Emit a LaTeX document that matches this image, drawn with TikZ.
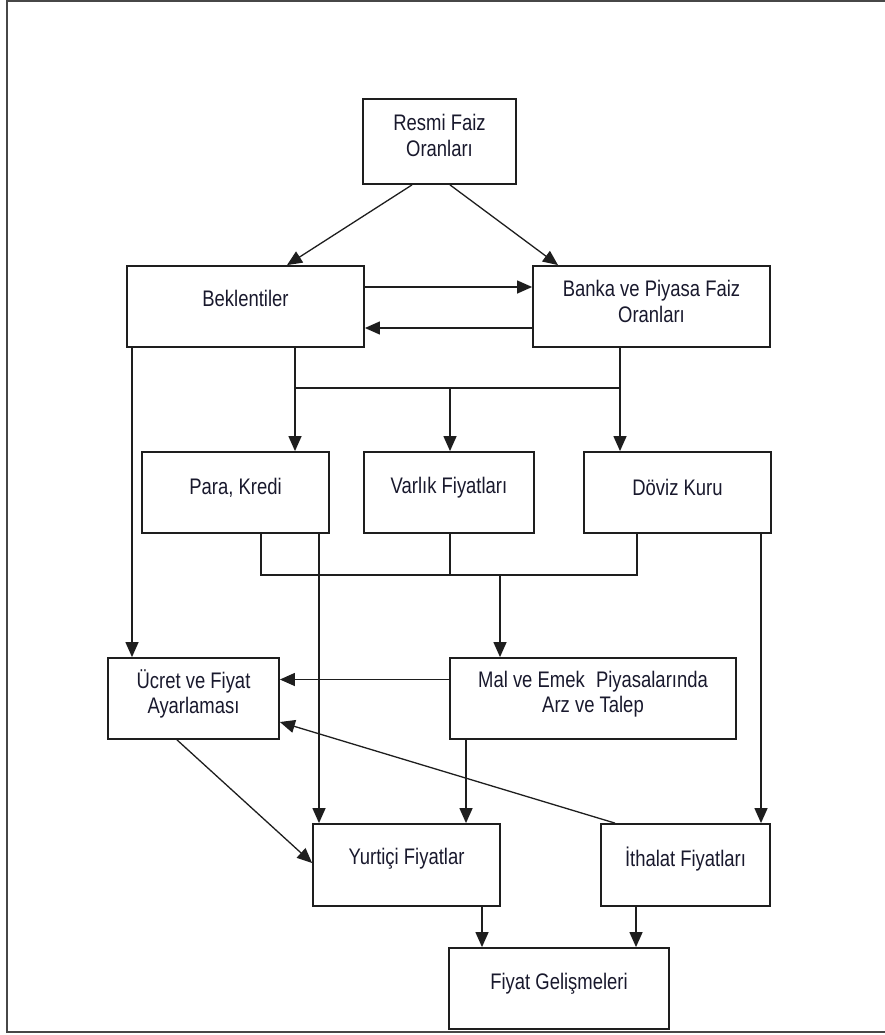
\documentclass[tikz,border=0pt]{standalone}
\usepackage{fontspec}
\setmainfont{Liberation Sans}[FakeStretch=0.82]
\usetikzlibrary{arrows.meta}
\definecolor{txtc}{RGB}{25,25,45}
\definecolor{linec}{RGB}{30,30,30}
\begin{document}
\begin{tikzpicture}[x=1pt,y=-1pt,
  box/.style={draw=linec, line width=1.8pt, inner sep=0pt, fill=white},
  lbl/.style={font=\fontsize{22.5}{25.5}\selectfont, align=center, text=txtc, inner sep=0pt},
  conn/.style={line width=1.3pt, draw=linec, -{Triangle[length=15pt,width=13pt]}},
  plainline/.style={line width=1.3pt, draw=linec}]
\useasboundingbox (0,0) rectangle (885,1035);
% frame
\draw[line width=2.2pt, draw=black!72] (885,1) -- (7,1) -- (7,1032) -- (885,1032);
% boxes
\node[box, minimum width=153pt, minimum height=85pt] (res) at (439.5,141.5) {};
\node[box, minimum width=237pt, minimum height=81pt] (bek) at (245.5,306.5) {};
\node[box, minimum width=237pt, minimum height=81pt] (ban) at (651.5,306.5) {};
\node[box, minimum width=187pt, minimum height=81pt] (par) at (235.5,492.5) {};
\node[box, minimum width=170pt, minimum height=81pt] (var) at (449,492.5) {};
\node[box, minimum width=187pt, minimum height=81pt] (dov) at (677.5,492.5) {};
\node[box, minimum width=171pt, minimum height=81pt] (ucr) at (193.5,698.5) {};
\node[box, minimum width=286pt, minimum height=81pt] (mal) at (593,698.5) {};
\node[box, minimum width=187pt, minimum height=82pt] (yur) at (406.5,865) {};
\node[box, minimum width=169pt, minimum height=82pt] (ith) at (685.5,865) {};
\node[box, minimum width=220pt, minimum height=81pt] (fiy) at (559,988.5) {};
% labels
\node[lbl] (res-t) at ([yshift=6pt]res.center) {Resmi Faiz\\Oranları};
\node[lbl] (bek-t) at ([yshift=8pt]bek.center) {Beklentiler};
\node[lbl] (ban-t) at ([yshift=5pt]ban.center) {Banka ve Piyasa Faiz\\Oranları};
\node[lbl] (par-t) at ([yshift=5pt]par.center) {Para, Kredi};
\node[lbl] (var-t) at ([yshift=5pt]var.center) {Varlık Fiyatları};
\node[lbl] (dov-t) at ([yshift=5pt]dov.center) {Döviz Kuru};
\node[lbl] (ucr-t) at ([yshift=4.5pt]ucr.center) {Ücret ve Fiyat\\Ayarlaması};
\node[lbl] (mal-t) at ([yshift=4.5pt]mal.center) {Mal ve Emek\enspace Piyasalarında\\Arz ve Talep};
\node[lbl] (yur-t) at ([yshift=6pt]yur.center) {Yurtiçi Fiyatlar};
\node[lbl] (ith-t) at ([yshift=6pt]ith.center) {İthalat Fiyatları};
\node[lbl] (fiy-t) at ([yshift=5pt]fiy.center) {Fiyat Gelişmeleri};
% helper coordinates
\coordinate (b1l) at (295,388);
\coordinate (b1m) at (450,388);
\coordinate (b1r) at (620,388);
\coordinate (b2l) at (261,575);
\coordinate (b2m) at (450,575);
\coordinate (b2r) at (637,575);
\coordinate (b2a) at (500,575);
\coordinate (bkl) at (132,0);
\coordinate (pk) at (319,0);
\coordinate (dk) at (761,0);
\coordinate (mk) at (466,0);
\coordinate (yk) at (482,0);
\coordinate (ik) at (636,0);
% connectors
\draw[conn] ([xshift=-27.5pt]res.south) -- ([xshift=41.5pt]bek.north);
\draw[conn] ([xshift=10.5pt]res.south) -- ([xshift=-93.5pt]ban.north);
\draw[conn] ([yshift=19.5pt]bek.east) -- ([yshift=19.5pt]ban.west);
\draw[conn] ([yshift=-21.5pt]ban.west) -- ([yshift=-21.5pt]bek.east);
\draw[plainline] (bek.south -| b1l) -- (b1l) -- (b1r) -- (ban.south -| b1r);
\draw[conn] (b1l) -- (par.north -| b1l);
\draw[conn] (b1m) -- (var.north -| b1m);
\draw[conn] (b1r) -- (dov.north -| b1r);
\draw[conn] (bek.south -| bkl) -- (ucr.north -| bkl);
\draw[plainline] (par.south -| b2l) -- (b2l) -- (b2r) -- (dov.south -| b2r);
\draw[plainline] (var.south -| b2m) -- (b2m);
\draw[conn] (b2a) -- (mal.north -| b2a);
\draw[conn] (par.south -| pk) -- (yur.north -| pk);
\draw[conn] (dov.south -| dk) -- (ith.north -| dk);
\draw[conn] ([yshift=19pt]mal.west) -- ([yshift=19pt]ucr.east);
\draw[conn] ([xshift=-70.5pt]ith.north) -- ([yshift=-23.5pt]ucr.east);
\draw[conn] ([xshift=-16.5pt]ucr.south) -- ([yshift=2pt]yur.west);
\draw[conn] (mal.south -| mk) -- (yur.north -| mk);
\draw[conn] (yur.south -| yk) -- (fiy.north -| yk);
\draw[conn] (ith.south -| ik) -- (fiy.north -| ik);
\end{tikzpicture}
\end{document}
